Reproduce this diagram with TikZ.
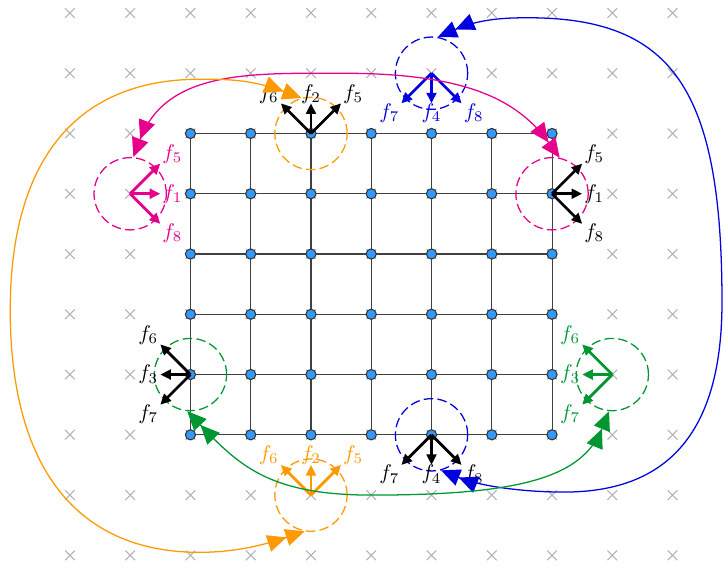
\documentclass[tikz,border=0pt]{standalone}
\usepackage{tikz}
\usetikzlibrary{arrows.meta,backgrounds}
\definecolor{pinkC}{RGB}{230,0,140}
\definecolor{orangeC}{RGB}{255,153,0}
\definecolor{blueC}{RGB}{0,0,225}
\definecolor{greenC}{RGB}{0,150,50}
\definecolor{siteC}{RGB}{51,153,255}
\tikzset{
  site/.style={circle, fill=siteC, draw=black!80, line width=0.5pt, minimum size=4.8pt, inner sep=0pt},
  ring/.style={circle, draw=#1, dash pattern=on 4.5pt off 2pt, line width=0.6pt, minimum size=1.2cm, inner sep=0pt},
  vec/.style={line width=1.3pt, -{Triangle[length=5pt,width=4.6pt]}},
  lab/.style={inner sep=0pt},
  link/.style={line width=0.6pt, {Triangle[length=9pt,width=8pt]Triangle[length=9pt,width=8pt]}-{Triangle[length=9pt,width=8pt]Triangle[length=9pt,width=8pt]}},
}
\begin{document}
\begin{tikzpicture}
    \useasboundingbox (-1.16,-0.225) rectangle (10.87,9.215);
    \foreach \i in {0,...,10}
      \foreach \j in {0,...,9}
        \draw[black!30, line width=0.5pt] (\i-0.08,\j-0.08) -- (\i+0.08,\j+0.08) (\i-0.08,\j+0.08) -- (\i+0.08,\j-0.08);
    \foreach \i in {2,...,8}
      \foreach \j in {2,...,7}
        \node[site] (n-\i-\j) at (\i,\j) {};
    \begin{scope}[on background layer]
      \foreach \j in {2,...,7}
        \draw[black!75, line width=0.5pt] (n-2-\j.center) -- (n-8-\j.center);
      \foreach \i in {2,...,8}
        \draw[black!75, line width=0.5pt] (n-\i-2.center) -- (n-\i-7.center);
    \end{scope}
    \node[ring=pinkC] (ringL) at (1,6) {};
    \node[ring=pinkC] (ringR) at (8,6) {};
    \node[ring=orangeC] (ringT) at (4,7) {};
    \node[ring=orangeC] (ringB) at (4,1) {};
    \node[ring=blueC] (ringN) at (6,8) {};
    \node[ring=blueC] (ringS) at (6,2) {};
    \node[ring=greenC] (ringW) at (2,3) {};
    \node[ring=greenC] (ringE) at (9,3) {};
    \foreach \k/\dx/\dy in {5/1/1,1/1/0,8/1/-1}{
      \draw[vec, pinkC] (ringL.center) -- ++(0.5*\dx,0.5*\dy);
      \node[lab, text=pinkC] (pL\k) at ([shift={(0.7*\dx,0.66*\dy)}]ringL.center) {$f_\k$};
      \draw[vec] (ringR.center) -- ++(0.5*\dx,0.5*\dy);
      \node[lab] (pR\k) at ([shift={(0.7*\dx,0.66*\dy)}]ringR.center) {$f_\k$};
    }
    \foreach \k/\dx/\dy in {6/-1/1,2/0/1,5/1/1}{
      \draw[vec] (ringT.center) -- ++(0.5*\dx,0.5*\dy);
      \node[lab] (oT\k) at ([shift={(0.7*\dx,0.66*\dy)}]ringT.center) {$f_\k$};
      \draw[vec, orangeC] (ringB.center) -- ++(0.5*\dx,0.5*\dy);
      \node[lab, text=orangeC] (oB\k) at ([shift={(0.7*\dx,0.66*\dy)}]ringB.center) {$f_\k$};
    }
    \foreach \k/\dx/\dy in {7/-1/-1,4/0/-1,8/1/-1}{
      \draw[vec, blueC] (ringN.center) -- ++(0.5*\dx,0.5*\dy);
      \node[lab, text=blueC] (bN\k) at ([shift={(0.7*\dx,0.66*\dy)}]ringN.center) {$f_\k$};
      \draw[vec] (ringS.center) -- ++(0.5*\dx,0.5*\dy);
      \node[lab] (bS\k) at ([shift={(0.7*\dx,0.66*\dy)}]ringS.center) {$f_\k$};
    }
    \foreach \k/\dx/\dy in {6/-1/1,3/-1/0,7/-1/-1}{
      \draw[vec] (ringW.center) -- ++(0.5*\dx,0.5*\dy);
      \node[lab] (gW\k) at ([shift={(0.7*\dx,0.66*\dy)}]ringW.center) {$f_\k$};
      \draw[vec, greenC] (ringE.center) -- ++(0.5*\dx,0.5*\dy);
      \node[lab, text=greenC] (gE\k) at ([shift={(0.7*\dx,0.66*\dy)}]ringE.center) {$f_\k$};
    }
    \draw[link, pinkC] (ringL.85) .. controls (1.6,8.05) and (3,8.0) .. (4.5,8.0) .. controls (6.5,8.0) and (7.4,7.6) .. (ringR.78);
    \draw[link, orangeC] (ringT.105) .. controls (3.0,7.9) and (2.6,7.9) .. (2.15,7.9) .. controls (0.11,7.9) and (-0.99,6.56) .. (-0.99,4.07) .. controls (-0.99,1.46) and (0.11,0.05) .. (2.15,0.05) .. controls (2.8,0.05) and (3.3,0.2) .. (ringB.-100);
    \draw[link, blueC] (ringN.80) .. controls (6.8,8.9) and (7.2,8.92) .. (7.6,8.92) .. controls (10.0,8.92) and (10.82,7.74) .. (10.82,4.2) .. controls (10.82,1.9) and (9.8,1.05) .. (8.2,1.05) .. controls (7.5,1.05) and (6.8,1.15) .. (ringS.-75);
    \draw[link, greenC] (ringW.-95) .. controls (2.8,1.5) and (3.3,1.0) .. (5,1.0) .. controls (7.5,1.0) and (8.5,1.3) .. (ringE.-95);
\end{tikzpicture}
\end{document}
